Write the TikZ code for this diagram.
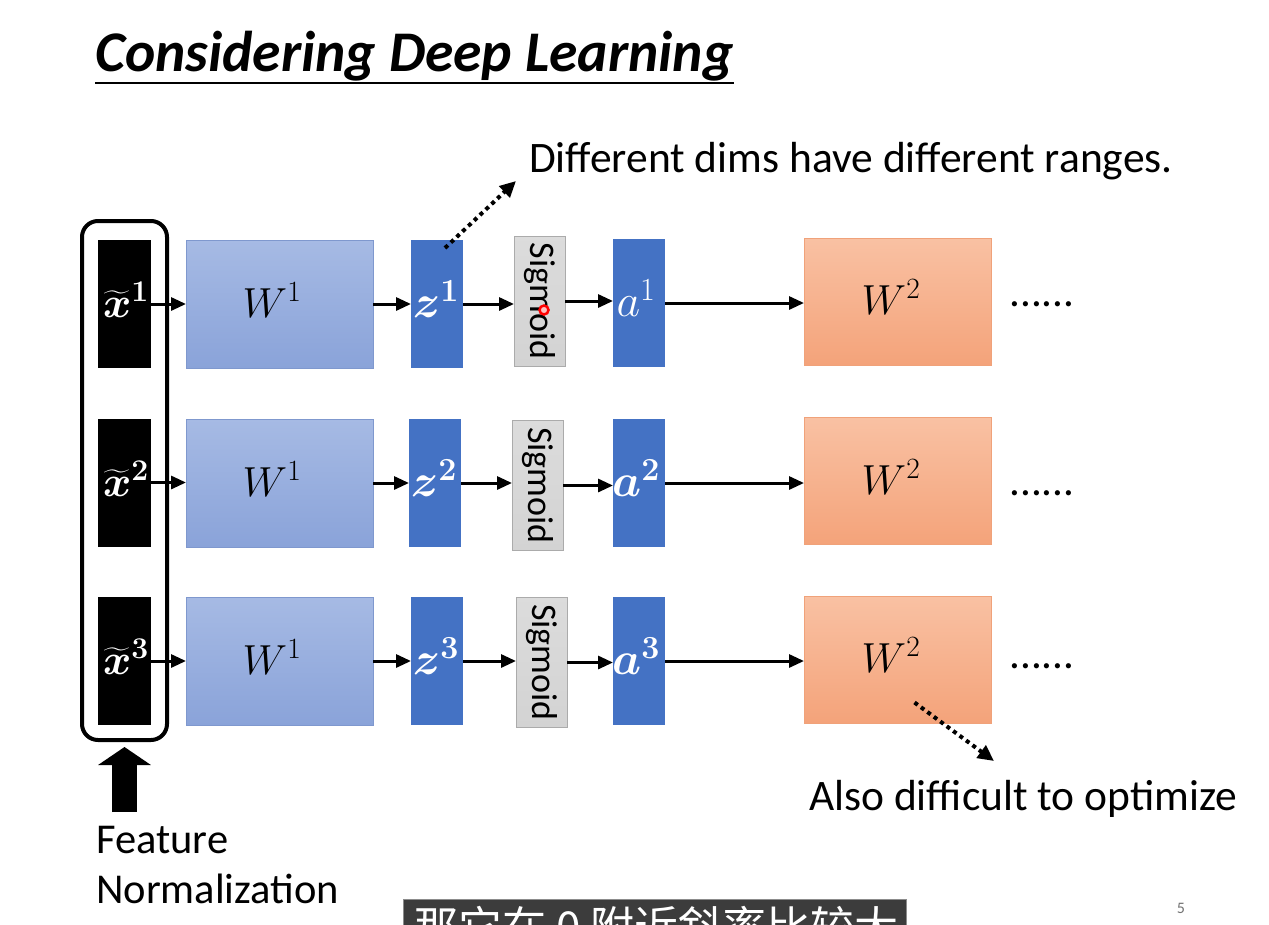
\RequirePackage{fix-cm}
\documentclass[tikz,border=0pt]{standalone}
\usepackage{amsmath}
\usepackage{fontspec}
\setmainfont{Carlito}
\newfontfamily\cjk{Noto Sans CJK SC}
\usetikzlibrary{arrows.meta,calc}

\definecolor{zblue}{HTML}{4472C4}
\definecolor{wlighttop}{HTML}{A6BAE4}
\definecolor{wlightbot}{HTML}{8AA3D9}
\definecolor{wedge}{HTML}{7F98CE}
\definecolor{otop}{HTML}{F9C1A3}
\definecolor{obot}{HTML}{F4A37A}
\definecolor{oedge}{HTML}{F0A27A}
\definecolor{sigfill}{HTML}{D3D3D3}
\definecolor{sigedge}{HTML}{ABABAB}
\definecolor{subbg}{HTML}{3C3C3C}

\tikzset{
  box/.style={inner sep=0pt, outer sep=0pt},
  xbox/.style={box, fill=black, minimum width=53pt, minimum height=128pt},
  xlbl/.style={text=white, font=\fontsize{43}{43}\selectfont, inner sep=0pt},
  wone/.style={box, top color=wlighttop, bottom color=wlightbot, draw=wedge,
    line width=1pt, minimum width=187pt, minimum height=128pt},
  zbox/.style={box, fill=zblue, minimum width=52pt, minimum height=128pt},
  lbl/.style={text=white, font=\fontsize{46}{46}\selectfont, inner sep=0pt},
  sigbox/.style={box, top color=sigfill!80!white, bottom color=sigfill,
    draw=sigedge, line width=1pt, minimum width=51pt, minimum height=130pt},
  sigtext/.style={rotate=-90, font=\fontsize{36}{36}\selectfont, inner sep=0pt},
  wtwo/.style={box, top color=otop, bottom color=obot, draw=oedge,
    line width=1pt, minimum width=187pt, minimum height=127pt},
  wlbl/.style={font=\fontsize{42}{42}\selectfont, inner sep=0pt},
  flow/.style={line width=3pt, -{Triangle[length=15pt,width=13pt]}},
  dotarrow/.style={line width=4pt, dash pattern=on 4pt off 4pt,
    -{Triangle[length=16pt,width=15pt]}},
  note/.style={font=\fontsize{43.5}{43.5}\selectfont, inner sep=0pt, anchor=base west},
  dotsnode/.style={font=\fontsize{43}{43}\selectfont, inner sep=0pt, anchor=base},
}

\begin{document}
\begin{tikzpicture}[x=1pt, y=-1pt]
  \useasboundingbox (0,0) rectangle (1269,924);
  \clip (0,0) rectangle (1269,924);
  \fill[white] (0,0) rectangle (1269,924);

  % title
  \node[anchor=base west, inner sep=0pt,
        font=\fontsize{57.5}{57.5}\selectfont\bfseries\itshape] (title) at (95,71)
        {Considering Deep Learning};
  \draw[line width=2pt] (title.base west) ++(0,12) -- ++(639,0);

  % input features inside the normalisation frame
  \node[xbox] (x1) at (124.5,304) {};
  \node[xlbl] at (126,300) {$\widetilde{\boldsymbol{x}}^{\boldsymbol{1}}$};
  \node[xbox] (x2) at (124.5,482.5) {};
  \node[xlbl] at (126,479) {$\widetilde{\boldsymbol{x}}^{\boldsymbol{2}}$};
  \node[xbox] (x3) at (124.5,661) {};
  \node[xlbl] at (126,657) {$\widetilde{\boldsymbol{x}}^{\boldsymbol{3}}$};
  \draw[line width=4pt, rounded corners=16pt] (82,221) rectangle (167,740);
  \coordinate (frame) at (124.5,740);

  % first layer weights
  \node[wone] (w11) at (279.5,304) {};
  \node[wlbl] at (272,300) {$W^1$};
  \node[wone] (w12) at (279.5,483) {};
  \node[wlbl] at (272,479) {$W^1$};
  \node[wone] (w13) at (279.5,661) {};
  \node[wlbl] at (272,657) {$W^1$};

  % pre-activations
  \node[zbox] (z1) at (437,304) {};
  \node[lbl] at (436,299) {$\boldsymbol{z}^{\boldsymbol{1}}$};
  \node[zbox] (z2) at (435,483) {};
  \node[lbl] at (434,478) {$\boldsymbol{z}^{\boldsymbol{2}}$};
  \node[zbox] (z3) at (437,661) {};
  \node[lbl] at (436,656) {$\boldsymbol{z}^{\boldsymbol{3}}$};

  % sigmoid blocks
  \node[sigbox] (s1) at (539.5,301) {};
  \node[sigtext] at (s1) {Sigmoid};
  \node[sigbox] (s2) at (537.5,485.5) {};
  \node[sigtext] at (s2) {Sigmoid};
  \node[sigbox] (s3) at (541.5,662.5) {};
  \node[sigtext] at (s3) {Sigmoid};

  % activations
  \node[zbox] (a1) at (639,303) {};
  \node[lbl] at (636,298) {$a^1$};
  \node[zbox] (a2) at (639,483) {};
  \node[lbl] at (636,478) {$\boldsymbol{a}^{\boldsymbol{2}}$};
  \node[zbox] (a3) at (639,661) {};
  \node[lbl] at (636,656) {$\boldsymbol{a}^{\boldsymbol{3}}$};

  % second layer weights
  \node[wtwo] (w21) at (897.5,301.5) {};
  \node[wlbl] at (891,297) {$W^2$};
  \node[wtwo] (w22) at (897.5,481) {};
  \node[wlbl] at (891,477) {$W^2$};
  \node[wtwo] (w23) at (897.5,659.5) {};
  \node[wlbl] at (891,655) {$W^2$};

  % continuation dots
  \node[dotsnode] (d1) at (1042,306) {......};
  \node[dotsnode] (d2) at (1042,495) {......};
  \node[dotsnode] (d3) at (1042,668) {......};

  % forward connections
  \foreach \r in {1,2,3} {
    \draw[flow] (x\r.east) -- (x\r.east -| w1\r.west);
    \draw[flow] (w1\r.east) -- (w1\r.east -| z\r.west);
    \draw[flow] (z\r.east) -- (z\r.east -| s\r.west);
    \draw[flow] (s\r.east) -- (s\r.east -| a\r.west);
    \draw[flow] (a\r.east) -- (a\r.east -| w2\r.west);
  }

  % annotations
  \node[note] (rng) at (529,172) {Different dims have different ranges.};
  \coordinate (rngtip) at (516,181);
  \draw[dotarrow] ($(z1.north)+(8,8)$) -- (rngtip);

  \node[note] (opt) at (809,810) {Also difficult to optimize};
  \coordinate (opttip) at (994,761);
  \draw[dotarrow] ($(w23.center)+(17,43)$) -- (opttip);

  % feature normalisation label and arrow
  \node[note, font=\fontsize{42.5}{42.5}\selectfont] (feat) at (96,853) {Feature};
  \node[note, font=\fontsize{42.5}{42.5}\selectfont] (norm) at (96,903) {Normalization};
  \coordinate (fbase) at (124.5,812);
  \draw[line width=25pt, -{Triangle[length=18pt,width=52pt]}, shorten >=7pt]
    (fbase) -- (frame);

  % pointer mark
  \draw[red, line width=2.5pt, fill=red!25] (544,310) circle (4.5pt);

  % page number
  \node[text=black!55, font=\fontsize{16}{16}\selectfont, inner sep=0pt] (pg) at (1181,908) {5};

  % caption strip
  \draw[fill=subbg, draw=black!45, line width=1pt] (403,899) rectangle (906,940);
  \node[anchor=base west, inner sep=0pt, text=white,
        font=\cjk\fontsize{44}{44}\selectfont] (sub) at (414,943) {那它在 0 附近斜率比较大};
\end{tikzpicture}
\end{document}
